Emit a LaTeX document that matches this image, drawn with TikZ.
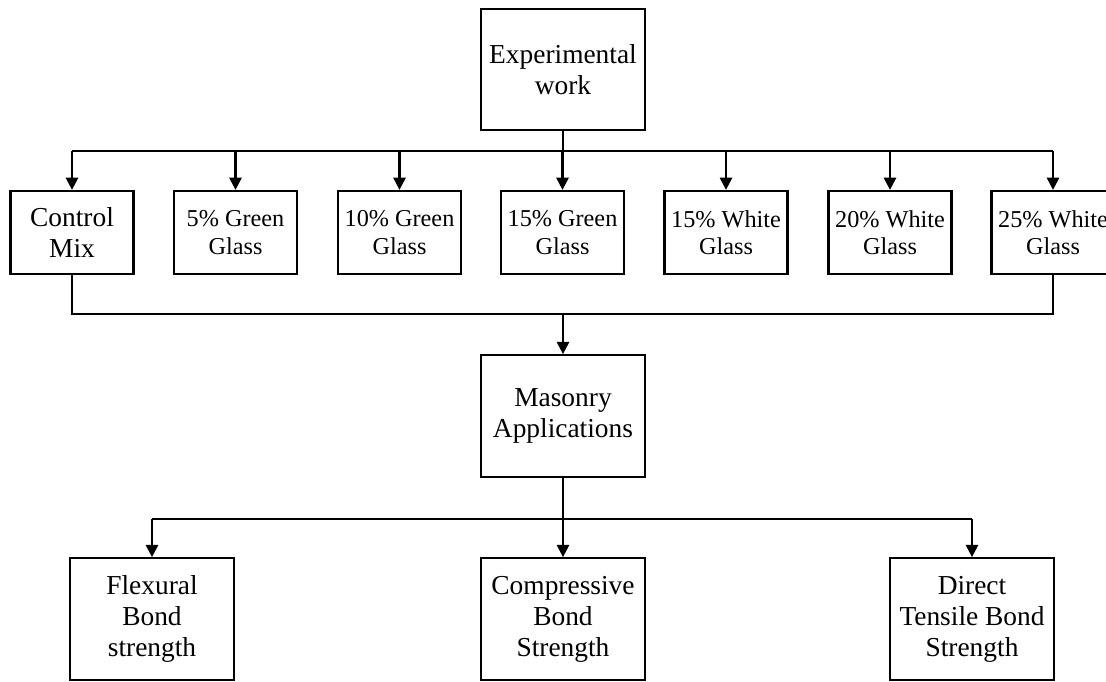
\documentclass[tikz,border=0pt]{standalone}
\usepackage{fontspec}
\setmainfont{Liberation Serif}
\usetikzlibrary{arrows.meta}
\tikzset{
  bigbox/.style={draw, line width=1.3pt, align=center, inner sep=0pt,
    minimum width=3.28cm, minimum height=2.43cm,
    font=\fontsize{15.6}{17.6}\selectfont},
  mixbox/.style={draw, line width=1.3pt, align=center, inner sep=0pt,
    minimum width=2.46cm, minimum height=1.66cm,
    font=\fontsize{13.8}{15.6}\selectfont},
  link/.style={line width=1.3pt},
  arr/.style={line width=1.3pt, -{Triangle[width=7pt,length=7pt]}}
}
\begin{document}
\begin{tikzpicture}[x=0.02cm, y=-0.02cm]
			%%%%% START %%%%%
			\path[use as bounding box, clip] (0,0) rectangle (1106,682);
			
			\node[bigbox] (exp) at (563, 69.5) {Experimental\\work};
			
			\node[mixbox, font=\fontsize{15.6}{17.6}\selectfont] (c1) at (72, 232.5) {Control\\Mix};
			\node[mixbox] (c2) at (235.5, 232.5) {5\% Green\\Glass};
			\node[mixbox] (c3) at (399.5, 232.5) {10\% Green\\Glass};
			\node[mixbox] (c4) at (562.5, 232.5) {15\% Green\\Glass};
			\node[mixbox] (c5) at (726, 232.5) {15\% White\\Glass};
			\node[mixbox] (c6) at (890, 232.5) {20\% White\\Glass};
			\node[mixbox] (c7) at (1053, 232.5) {25\% White\\Glass};
			
			\node[bigbox] (mas) at (563, 416) {Masonry\\Applications};
			
			\node[bigbox] (fl) at (152, 619) {Flexural\\Bond\\strength};
			\node[bigbox] (cb) at (563, 619) {Compressive\\Bond\\Strength};
			\node[bigbox] (dt) at (972, 619) {Direct\\Tensile Bond\\Strength};
			
			\coordinate (bus1) at (563, 151);
			\coordinate (bus2) at (563, 314);
			\coordinate (bus3) at (563, 519);
			
			% experimental work to the mixes
			\draw[link] (exp.south) -- (bus1);
			\draw[link] (c1.north |- bus1) -- (c7.north |- bus1);
			\foreach \n in {c1,c2,c3,c4,c5,c6,c7}
				\draw[arr] (\n.north |- bus1) -- (\n.north);
			
			% mixes to masonry
			\draw[link] (c1.south) -- (c1.south |- bus2) -- (c7.south |- bus2) -- (c7.south);
			\draw[arr] (bus2) -- (mas.north);
			
			% masonry to bond tests
			\draw[link] (mas.south) -- (bus3);
			\draw[link] (fl.north |- bus3) -- (dt.north |- bus3);
			\foreach \n in {fl,cb,dt}
				\draw[arr] (\n.north |- bus3) -- (\n.north);
			
			%%%%% END %%%%%
\end{tikzpicture}
\end{document}
